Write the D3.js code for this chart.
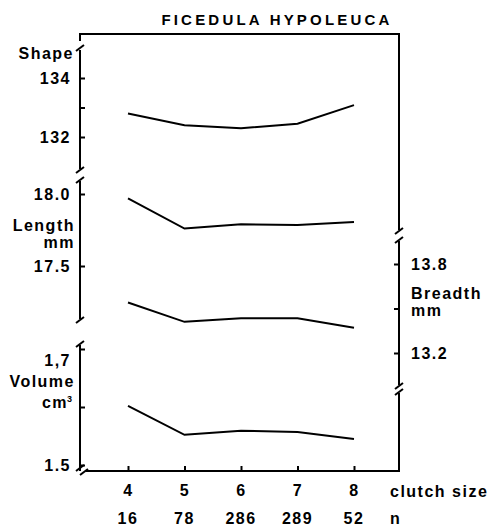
<!DOCTYPE html>
<html>
<head>
<meta charset="utf-8">
<script src="https://cdn.jsdelivr.net/npm/d3@7"></script>
<style>
  html, body { margin: 0; padding: 0; background: #fff; }
  svg text { font-family: "Liberation Sans", Arial, sans-serif; font-weight: bold; fill: #000; }
</style>
</head>
<body>
<div class="svg-container"></div>
<script>
// data
var clutchSizes = [4, 5, 6, 7, 8];
var nValues = [16, 78, 286, 289, 52];
var shapeValues = [132.8, 132.4, 132.3, 132.45, 133.08];
var lengthValues = [17.97, 17.76, 17.79, 17.785, 17.805];
var breadthValues = [13.54, 13.41, 13.435, 13.435, 13.37];
var volumeValues = [1.602, 1.552, 1.559, 1.557, 1.545];

var shapeTicks = [132, 133, 134];
var lengthTicks = [17.5, 18.0];
var breadthTicks = [13.2, 13.5, 13.8];
var volumeTicks = [1.5, 1.6, 1.7];

var W = 495, H = 529;
var plotL = 80, plotR = 399, plotT = 34, plotB = 471;
var FS = "16px", LS = "1.5px";

var svg = d3.select(".svg-container").append("svg")
    .attr("width", W)
    .attr("height", H);

var x = d3.scaleLinear().domain([4, 8]).range([128, 354]);

var shapeY = d3.scaleLinear().domain([132, 134]).range([137, 78]);
var lengthY = d3.scaleLinear().domain([17.5, 18]).range([266, 194]);
var breadthY = d3.scaleLinear().domain([13.2, 13.8]).range([353, 264]);
var volumeY = d3.scaleLinear().domain([1.5, 1.7]).range([465, 349]);

// title
svg.append("text")
    .attr("x", 277).attr("y", 25)
    .attr("text-anchor", "middle")
    .style("font-size", "15px")
    .style("letter-spacing", "3.2px")
    .text("FICEDULA HYPOLEUCA");

var axisStyle = function(g) {
    g.select(".domain").remove();
    g.selectAll(".tick line").attr("stroke", "#000").attr("stroke-width", 2);
    g.selectAll(".tick text")
        .style("font-size", FS)
        .style("letter-spacing", LS)
        .style("font-family", "Liberation Sans, Arial, sans-serif")
        .style("font-weight", "bold");
};

function fmt(labels) {
    return function(d) { return labels[d] !== undefined ? labels[d] : ""; };
}

// left axis segments
svg.append("g").attr("transform", "translate(" + plotL + ",0)")
    .call(d3.axisLeft(shapeY).tickValues(shapeTicks).tickSize(-5).tickPadding(9)
        .tickFormat(fmt({132: "132", 134: "134"})))
    .call(axisStyle);
svg.append("g").attr("transform", "translate(" + plotL + ",0)")
    .call(d3.axisLeft(lengthY).tickValues(lengthTicks).tickSize(-5).tickPadding(9)
        .tickFormat(fmt({17.5: "17.5", 18: "18.0"})))
    .call(axisStyle);
svg.append("g").attr("transform", "translate(" + plotL + ",0)")
    .call(d3.axisLeft(volumeY).tickValues(volumeTicks).tickSize(-5).tickPadding(9)
        .tickFormat(fmt({1.5: "1.5", 1.7: "1,7"})))
    .call(axisStyle)
    .selectAll(".tick text")
    .filter(function(d) { return d === 1.7; })
    .attr("dy", "1.0em");

// right axis (breadth)
svg.append("g").attr("transform", "translate(" + plotR + ",0)")
    .call(d3.axisRight(breadthY).tickValues(breadthTicks).tickSize(-5).tickPadding(12)
        .tickFormat(fmt({13.2: "13.2", 13.8: "13.8"})))
    .call(axisStyle);

// bottom axis
svg.append("g").attr("transform", "translate(0," + plotB + ")")
    .call(d3.axisBottom(x).tickValues(clutchSizes).tickSize(-5).tickPadding(14)
        .tickFormat(d3.format("d")))
    .call(axisStyle);

// n row
svg.append("g").selectAll("text.n")
    .data(nValues)
    .enter().append("text")
    .attr("class", "n")
    .attr("x", function(d, i) { return x(clutchSizes[i]); })
    .attr("y", 524)
    .attr("text-anchor", "middle")
    .style("font-size", FS)
    .style("letter-spacing", LS)
    .text(function(d) { return d; });

// frame top
svg.append("path")
    .attr("d", "M" + plotL + "," + plotT + "H" + (plotR + 1))
    .attr("stroke", "#000").attr("stroke-width", 2).attr("fill", "none");

// axis lines with breaks
var segs = [
    [plotL, plotT - 1, plotL, 41],
    [plotL, 50, plotL, 169],
    [plotL, 181, plotL, 319],
    [plotL, 345, plotL, plotB],
    [plotR, plotT - 1, plotR, 230],
    [plotR, 241, plotR, 385],
    [plotR, 393, plotR, plotB + 1],
    [86, plotB, plotR + 1, plotB]
];
svg.selectAll("line.ax").data(segs).enter().append("line")
    .attr("class", "ax")
    .attr("x1", function(d) { return d[0]; })
    .attr("y1", function(d) { return d[1]; })
    .attr("x2", function(d) { return d[2]; })
    .attr("y2", function(d) { return d[3]; })
    .attr("stroke", "#000").attr("stroke-width", 2);

// break marks (short slants)
var breaks = [
    [plotL, 48], [plotL, 170], [plotL, 180], [plotL, 320], [plotL, 344], [plotL, 468],
    [plotR, 231], [plotR, 240], [plotR, 386], [plotR, 392], [84, 472]
];
svg.selectAll("path.brk").data(breaks).enter().append("path")
    .attr("class", "brk")
    .attr("d", function(d) {
        return "M" + (d[0] - 4) + "," + (d[1] + 3) + "L" + (d[0] + 4) + "," + (d[1] - 3);
    })
    .attr("stroke", "#000").attr("stroke-width", 2).attr("fill", "none");

// data lines
var series = [
    { values: shapeValues, y: shapeY },
    { values: lengthValues, y: lengthY },
    { values: breadthValues, y: breadthY },
    { values: volumeValues, y: volumeY }
];
series.forEach(function(s) {
    var line = d3.line()
        .x(function(d, i) { return x(clutchSizes[i]); })
        .y(function(d) { return s.y(d); });
    svg.append("path")
        .datum(s.values)
        .attr("d", line)
        .attr("fill", "none")
        .attr("stroke", "#000")
        .attr("stroke-width", 2);
});

// axis titles
function label(lines, xPos, yPos, anchor) {
    var t = svg.append("text")
        .attr("x", xPos).attr("y", yPos)
        .attr("text-anchor", anchor)
        .style("font-size", FS)
        .style("letter-spacing", LS);
    lines.forEach(function(l, i) {
        t.append("tspan").attr("x", xPos).attr("dy", i === 0 ? 0 : 17).text(l);
    });
    return t;
}
label(["Shape"], 74, 59, "end");
label(["Length", "mm"], 75, 231, "end");
label(["Breadth", "mm"], 411, 299, "start");
label(["Volume"], 75, 387, "end");
label(["cm"], 68, 408, "end");
svg.append("text").attr("x", 67).attr("y", 402).style("font-size", "9px").text("3");

svg.append("text").attr("x", 390).attr("y", 497)
    .style("font-size", FS).style("letter-spacing", LS).text("clutch size");
svg.append("text").attr("x", 390).attr("y", 524)
    .style("font-size", FS).style("letter-spacing", LS).text("n");
</script>
</body>
</html>
